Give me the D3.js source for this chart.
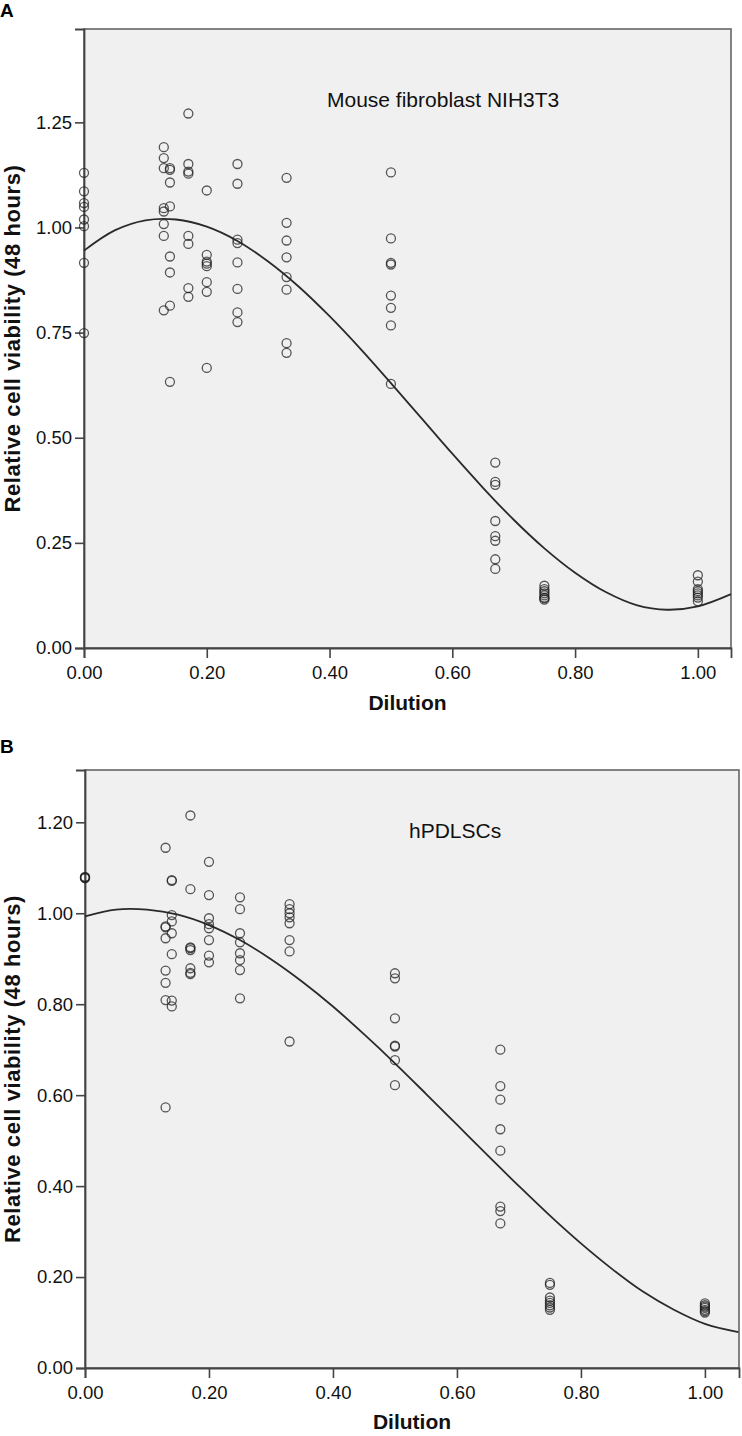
<!DOCTYPE html>
<html><head><meta charset="utf-8">
<script src="https://cdn.jsdelivr.net/npm/d3@7"></script>
<style>
html,body{margin:0;padding:0;background:#fff;}
svg{display:block;font-family:"Liberation Sans",Arial,sans-serif;}
</style></head>
<body>
<svg id="chart" width="742" height="1436"></svg>
<script>
// ---------- data ----------
const dilutions = [0, 0.13, 0.14, 0.17, 0.20, 0.25, 0.33, 0.50, 0.67, 0.75, 1.00];

// Panel A: Mouse fibroblast NIH3T3 (relative viability, 48 h)
const mouseViability = [
  [1.130, 1.086, 1.058, 1.049, 1.019, 1.003, 0.916, 0.749],
  [1.191, 1.165, 1.141, 1.046, 1.038, 1.008, 0.980, 0.803],
  [1.141, 1.137, 1.107, 1.050, 0.931, 0.893, 0.814, 0.633],
  [1.271, 1.151, 1.133, 1.128, 0.980, 0.961, 0.856, 0.835],
  [1.088, 0.935, 0.919, 0.914, 0.908, 0.870, 0.847, 0.666],
  [1.151, 1.104, 0.971, 0.963, 0.917, 0.854, 0.798, 0.775],
  [1.118, 1.011, 0.969, 0.929, 0.882, 0.852, 0.725, 0.702],
  [1.131, 0.974, 0.916, 0.912, 0.838, 0.809, 0.767, 0.628],
  [0.441, 0.395, 0.388, 0.302, 0.266, 0.255, 0.211, 0.188],
  [0.148, 0.140, 0.135, 0.130, 0.125, 0.120, 0.118, 0.115],
  [0.173, 0.158, 0.140, 0.135, 0.130, 0.125, 0.120, 0.111]
];

// Panel B: hPDLSCs
const hpdlViability = [
  [1.078, 1.079, 1.080, 1.077],
  [1.144, 0.971, 0.969, 0.945, 0.874, 0.847, 0.809, 0.573],
  [1.073, 1.071, 0.996, 0.982, 0.956, 0.910, 0.808, 0.795],
  [1.215, 1.053, 0.925, 0.923, 0.919, 0.879, 0.869, 0.866],
  [1.113, 1.040, 0.989, 0.976, 0.967, 0.941, 0.907, 0.892],
  [1.035, 1.009, 0.956, 0.936, 0.912, 0.897, 0.875, 0.813],
  [1.020, 1.009, 1.000, 0.991, 0.978, 0.941, 0.916, 0.718],
  [0.868, 0.857, 0.769, 0.709, 0.707, 0.677, 0.622],
  [0.700, 0.620, 0.590, 0.525, 0.478, 0.355, 0.345, 0.318],
  [0.187, 0.183, 0.155, 0.148, 0.143, 0.138, 0.133, 0.128],
  [0.142, 0.138, 0.135, 0.132, 0.128, 0.125, 0.122]
];

// Fitted curves
const curveX   = [0, 0.05, 0.10, 0.15, 0.20, 0.25, 0.30, 0.35, 0.40, 0.45, 0.50, 0.55, 0.60, 0.65, 0.70, 0.75, 0.80, 0.85, 0.90, 0.95, 1.00, 1.054];
const mouseFit = [0.945, 0.993, 1.017, 1.019, 1.002, 0.968, 0.919, 0.859, 0.789, 0.712, 0.630, 0.546, 0.462, 0.381, 0.305, 0.237, 0.179, 0.133, 0.102, 0.091, 0.099, 0.128];
const hpdlFit  = [0.993, 1.008, 1.008, 0.997, 0.974, 0.941, 0.899, 0.850, 0.795, 0.734, 0.670, 0.603, 0.535, 0.467, 0.400, 0.335, 0.274, 0.218, 0.168, 0.128, 0.097, 0.079];

const xTicks = [0, 0.2, 0.4, 0.6, 0.8, 1.0];
const yTicksA = [0, 0.25, 0.5, 0.75, 1.0, 1.25];
const yTicksB = [0, 0.2, 0.4, 0.6, 0.8, 1.0, 1.2];

// ---------- drawing ----------
const svg = d3.select("#chart");

function panel(opt) {
  const {letter, letterY, left, right, top, bottom, xMax, yMax, yTicks,
         values, fit, label, labelX, labelY, titleY} = opt;
  const x = d3.scaleLinear().domain([0, xMax]).range([left, right]);
  const y = d3.scaleLinear().domain([0, yMax]).range([bottom, top]);
  const g = svg.append("g");

  g.append("text").attr("x", 0).attr("y", letterY)
    .attr("font-size", 19).attr("font-weight", "bold").attr("fill", "#000").text(letter);

  g.append("rect").attr("x", left).attr("y", top)
    .attr("width", right - left).attr("height", bottom - top)
    .attr("fill", "#f0f0f0").attr("stroke", "#666").attr("stroke-width", 1.6);

  // axes
  const ya = d3.axisLeft(y).tickValues(yTicks).tickFormat(d3.format(".2f")).tickSize(9).tickPadding(3);
  const yg = g.append("g").attr("transform", `translate(${left},0)`).call(ya);
  const xa = d3.axisBottom(x).tickValues(xTicks).tickFormat(d3.format(".2f")).tickSize(10).tickPadding(8);
  const xg = g.append("g").attr("transform", `translate(0,${bottom})`).call(xa);
  [yg, xg].forEach(a => {
    a.select(".domain").attr("stroke", "#444").attr("stroke-width", 1.8);
    a.selectAll(".tick line").attr("stroke", "#444").attr("stroke-width", 1.6);
    a.selectAll(".tick text").attr("font-size", 18.5).attr("fill", "#111")
      .attr("font-family", '"Liberation Sans",Arial,sans-serif');
  });

  // fit curve
  const pts = curveX.map((d, i) => [d, fit[i]]);
  g.append("path").datum(pts)
    .attr("d", d3.line().x(d => x(d[0])).y(d => y(d[1])).curve(d3.curveCatmullRom.alpha(0.5)))
    .attr("fill", "none").attr("stroke", "#2a2a2a").attr("stroke-width", 1.8);

  // points
  const flat = [];
  values.forEach((col, i) => col.forEach(v => flat.push([dilutions[i], v])));
  g.append("g").selectAll("circle").data(flat).join("circle")
    .attr("cx", d => x(d[0])).attr("cy", d => y(d[1])).attr("r", 4.5)
    .attr("fill", "none").attr("stroke", "#222").attr("stroke-opacity", 0.75).attr("stroke-width", 1.3);

  // annotation
  g.append("text").attr("x", labelX).attr("y", labelY)
    .attr("font-size", 21).attr("fill", "#111").text(label);

  // axis titles
  g.append("text").attr("x", (left + right) / 2).attr("y", titleY)
    .attr("text-anchor", "middle").attr("font-size", 21).attr("font-weight", "bold")
    .attr("fill", "#111").text("Dilution");
  g.append("text").attr("transform", `translate(20,${(top + bottom) / 2}) rotate(-90)`)
    .attr("text-anchor", "middle").attr("font-size", 22).attr("font-weight", "bold")
    .attr("letter-spacing", 0.6)
    .attr("fill", "#111").text("Relative cell viability (48 hours)");
}

panel({letter: "A", letterY: 17, left: 84, right: 731, top: 29, bottom: 648,
  xMax: 1.054, yMax: 1.472, yTicks: yTicksA, values: mouseViability, fit: mouseFit,
  label: "Mouse fibroblast NIH3T3", labelX: 327, labelY: 107, titleY: 710});

panel({letter: "B", letterY: 753, left: 85, right: 739, top: 770, bottom: 1368,
  xMax: 1.055, yMax: 1.315, yTicks: yTicksB, values: hpdlViability, fit: hpdlFit,
  label: "hPDLSCs", labelX: 409, labelY: 838, titleY: 1429});
</script>
</body></html>
